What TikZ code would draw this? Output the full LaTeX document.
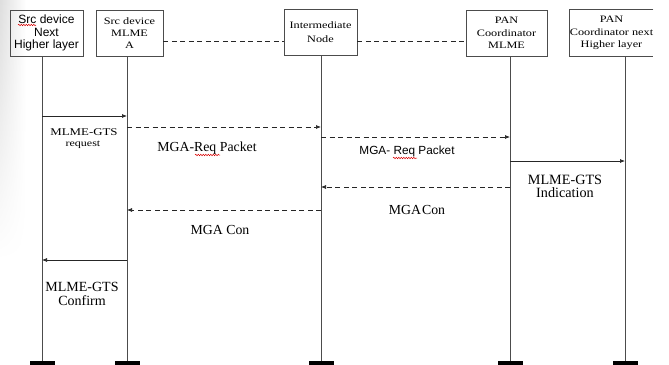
\documentclass[tikz,border=0pt]{standalone}
\usepackage{fontspec}
\setmainfont{Liberation Serif}
\setsansfont{Liberation Sans}
\newfontfamily\wideserif{Liberation Serif}[FakeStretch=1.25]
\usetikzlibrary{arrows.meta,decorations.pathmorphing,fadings}
\tikzfading[name=fadedown, top color=transparent!0, bottom color=transparent!100]
\begin{document}
\begin{tikzpicture}[x=1pt,y=-1pt,
  box/.style={draw=black!70, line width=0.8pt, minimum height=46pt, inner sep=0pt, align=center},
  life/.style={draw=black!70, line width=0.8pt},
  msg/.style={draw=black!85, line width=0.7pt, -{Latex[length=5pt,width=4pt]}},
  dmsg/.style={msg, dash pattern=on 5pt off 3.5pt},
  link/.style={draw=black!85, line width=0.7pt, dash pattern=on 5pt off 3.5pt},
  lbl/.style={inner sep=0pt, align=center},
  squig/.style={draw=red!85!black, line width=0.5pt, decorate, decoration={snake, amplitude=0.7pt, segment length=2.5pt}},
  boxsans/.style={font=\sffamily\fontsize{12}{12.5}\selectfont},
  boxserif/.style={font=\wideserif\fontsize{9.8}{12.4}\selectfont},
  lblserif/.style={font=\fontsize{13.8}{13.5}\selectfont},
  lblwide/.style={font=\wideserif\fontsize{10.3}{13}\selectfont}
]
\useasboundingbox (0,0) rectangle (669,364);
\shade[left color=black!13, right color=white, path fading=fadedown] (0,0) rectangle (26,260);

% boxes
\node[box, boxsans, minimum width=73pt] (b1) at (46.5,33) {Src device\\Next\\Higher layer};
\node[box, boxserif, minimum width=67pt] (b2) at (129.5,33) {Src device\\MLME\\A};
\node[box, boxserif, minimum width=73pt, font=\wideserif\fontsize{9.8}{14}\selectfont] (b3) at (320.5,32.5) {Intermediate\\Node};
\node[box, boxserif, minimum width=81pt] (b4) at (506.5,33) {PAN\\Coordinator\\MLME};
\node[boxserif, minimum width=83pt, minimum height=46pt, inner sep=0pt, align=center] (b5) at (611.5,33) {PAN\\Coordinator next\\Higher layer};
\draw[draw=black!70, line width=0.8pt] (b5.north east) -- (b5.north west) -- (b5.south west) -- (b5.south east);

% links between boxes
\coordinate (k2) at (b2.east |- 0,41);
\coordinate (k3a) at (b3.west |- 0,41);
\coordinate (k3b) at (b3.east |- 0,41);
\coordinate (k4) at (b4.west |- 0,41);
\draw[link] (k2) -- (k3a);
\draw[link] (k3b) -- (k4);

% lifelines
\foreach \i/\x in {1/42,2/127,3/321,4/510,5/625}{
  \coordinate (t\i) at (\x,56);
  \coordinate (e\i) at (\x,361);
  \draw[life] (t\i) -- (e\i);
  \fill[black] (\x-12.5,361) rectangle (\x+12.5,364.5);
}

% message end points
\coordinate (m1a) at (42,116);  \coordinate (m1b) at (127,116);
\coordinate (m2a) at (127,127); \coordinate (m2b) at (321,127);
\coordinate (m3a) at (321,137); \coordinate (m3b) at (510,137);
\coordinate (m4a) at (510,161); \coordinate (m4b) at (625,161);
\coordinate (m5a) at (510,187); \coordinate (m5b) at (321,187);
\coordinate (m6a) at (321,210); \coordinate (m6b) at (127,210);
\coordinate (m7a) at (127,260); \coordinate (m7b) at (42,260);

\draw[msg] (m1a) -- (m1b);
\draw[dmsg] (m2a) -- (m2b);
\draw[dmsg] (m3a) -- (m3b);
\draw[msg] (m4a) -- (m4b);
\draw[dmsg] (m5a) -- (m5b);
\draw[dmsg] (m6a) -- (m6b);
\draw[msg] (m7a) -- (m7b);

% labels
\node[lbl, lblwide] (l1) at (84,132) {MLME-GTS};
\node[lbl, font=\wideserif\fontsize{9.6}{11}\selectfont] (l1b) at (83,145) {request};
\node[lbl, lblserif] (l2) at (207,148) {MGA-Req Packet};
\node[lbl, font=\sffamily\fontsize{11.8}{13}\selectfont] (l3) at (407,151) {MGA- Req Packet};
\node[lbl, font=\fontsize{14.2}{13.5}\selectfont] (l4) at (565,186.5) {MLME-GTS\\Indication};
\node[lbl, lblserif] (l5) at (417,210) {MGA\hspace{1pt}Con};
\node[lbl, lblserif] (l6) at (220,230) {MGA Con};
\node[lbl, font=\fontsize{14}{14}\selectfont] (l7) at (82,294) {MLME-GTS\\Confirm};

% spell-check squiggles
\draw[squig] (18,25) -- (36,25);
\draw[squig] (195,155) -- (220,155);
\draw[squig] (393,158) -- (417,158);
\end{tikzpicture}
\end{document}
